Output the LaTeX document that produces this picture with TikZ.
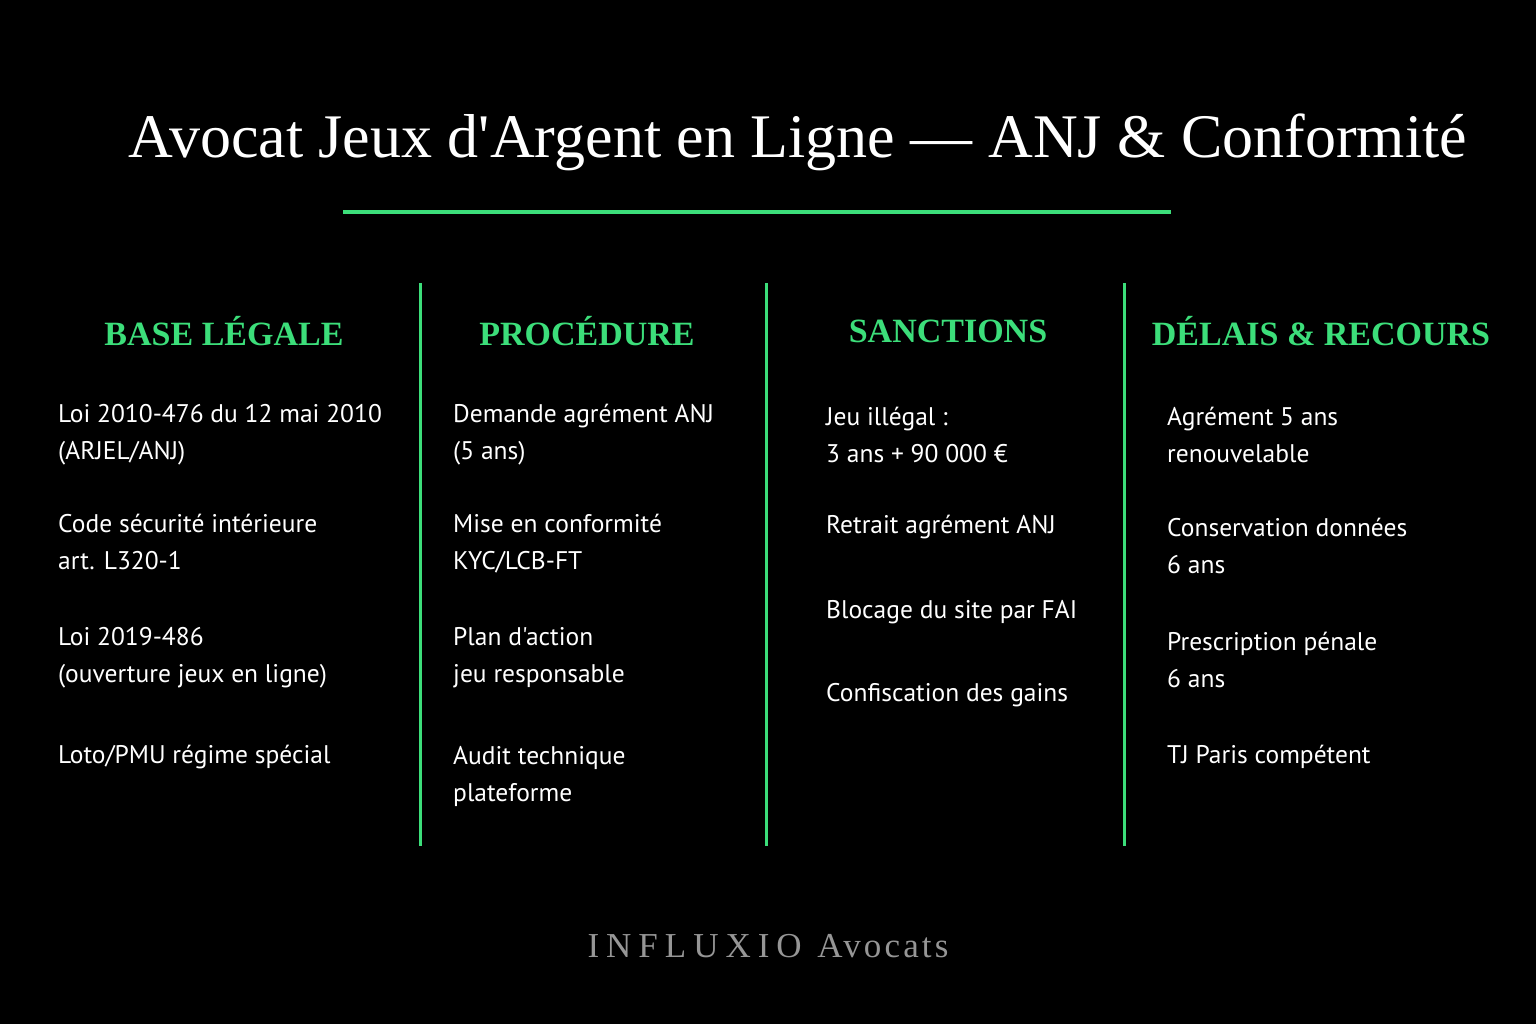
\documentclass[tikz,border=0pt]{standalone}
\usepackage{fontspec}
\setmainfont{Liberation Serif}
\newfontfamily\bodyf{PT Sans}
\definecolor{grn}{RGB}{60,222,122}
\definecolor{foot}{RGB}{150,150,150}
\begin{document}
\begin{tikzpicture}[x=1pt,y=-1pt,
  body/.style={anchor=west,align=left,text=white,inner sep=0pt,font=\bodyf\fontsize{25.5}{37}\selectfont},
  head/.style={text=grn,inner sep=0pt,font=\bfseries\fontsize{34}{40}\selectfont},
  sep/.style={draw=grn,line width=3pt}]
\fill[black] (0,0) rectangle (1536,1024);
\useasboundingbox (0,0) rectangle (1536,1024);
\node[text=white,inner sep=0pt,font=\fontsize{62}{70}\selectfont] (title) at (798,142) {Avocat Jeux d\textquotesingle Argent en Ligne — ANJ \& Conformité};
\coordinate (u1) at (343,212); \coordinate (u2) at (1171,212);
\draw[grn,line width=4pt] (u1) -- (u2);
\foreach \x/\n in {420/a,766/b,1124/c}{
  \coordinate (\n1) at (\x,283); \coordinate (\n2) at (\x,846);
  \draw[sep] (\n1) -- (\n2);}
\node[head] (h1) at (224,331) {BASE LÉGALE};
\node[head] (h2) at (587,331) {PROCÉDURE};
\node[head] (h3) at (948,331) {SANCTIONS};
\node[head] (h4) at (1321,331) {DÉLAIS \& RECOURS};
\node[body] (a1) at (58,435) {Loi 2010-476 du 12 mai 2010\\(ARJEL/ANJ)};
\node[body] (a2) at (58,542) {Code sécurité intérieure\\art. L320-1};
\node[body] (a3) at (58,658) {Loi 2019-486\\(ouverture jeux en ligne)};
\node[body] (a4) at (58,757) {Loto/PMU régime spécial};
\node[body] (b1) at (453,435) {Demande agrément ANJ\\(5 ans)};
\node[body] (b2) at (453,544) {Mise en conformité\\KYC/LCB-FT};
\node[body] (b3) at (453,658) {Plan d'action\\jeu responsable};
\node[body] (b4) at (453,776) {Audit technique\\plateforme};
\node[body] (c1) at (826,435) {Jeu illégal :\\3 ans + 90 000 €};
\node[body] (c2) at (826,527) {Retrait agrément ANJ};
\node[body] (c3) at (826,612) {Blocage du site par FAI};
\node[body] (c4) at (826,695) {Confiscation des gains};
\node[body] (d1) at (1167,435) {Agrément 5 ans\\renouvelable};
\node[body] (d2) at (1167,546) {Conservation données\\6 ans};
\node[body] (d3) at (1167,660) {Prescription pénale\\6 ans};
\node[body] (d4) at (1167,757) {TJ Paris compétent};
\node[text=foot,inner sep=0pt,font=\addfontfeature{LetterSpace=20}\fontsize{35}{40}\selectfont] (f) at (768,946) {INFLUXIO {\addfontfeature{LetterSpace=9}Avocats}};
\end{tikzpicture}
\end{document}
